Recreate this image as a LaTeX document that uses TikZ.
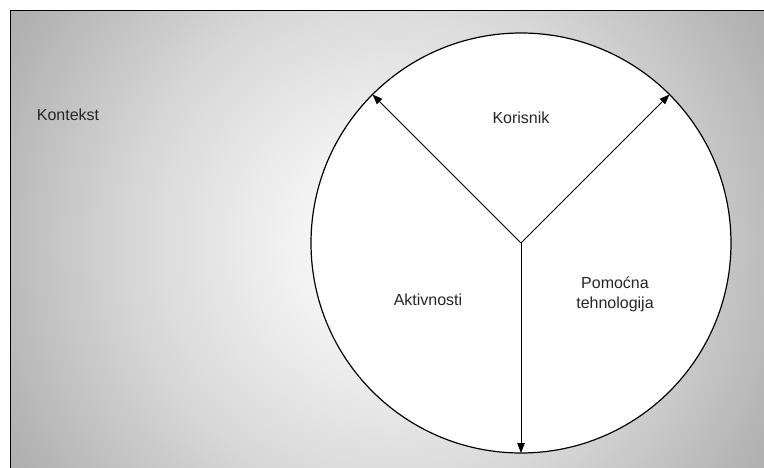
\documentclass[tikz,border=0pt]{standalone}
\usepackage{fontspec}
\setmainfont{Liberation Sans}
\usepackage{tikz}
\usetikzlibrary{arrows.meta, positioning}
\definecolor{ctxin}{RGB}{240, 240, 240}
\definecolor{ctxmid}{RGB}{216, 216, 216}
\definecolor{ctxout}{RGB}{178, 178, 178}
\definecolor{ctxedge}{RGB}{168, 168, 168}
\definecolor{ctxfar}{RGB}{160, 160, 160}
\pgfdeclareradialshading{ctxglow}{\pgfpoint{0bp}{0bp}}{color(0bp)=(white); color(6bp)=(ctxin); color(13.5bp)=(ctxmid); color(22.4bp)=(ctxout); color(26bp)=(ctxedge); color(50bp)=(ctxfar)}

\begin{document}
\begin{tikzpicture}[x=1pt, y=-1pt,
			lbl/.style={font=\fontsize{16}{20}\selectfont, text=black!85, align=center, inner sep=0pt},
			spoke/.style={-{Triangle[length=10pt, width=7.5pt]}, line width=0.9pt}]
			\useasboundingbox (0,0) rectangle (764,468);
			\clip (10,11) rectangle (764,468);
			
			% context background
			\shade[shading=ctxglow] (-80,-227) rectangle (860,713);
			\draw[line width=1pt] (10,476) -- (10,11) -- (772,11);
			\node[lbl] (ctx) at (68,115) {Kontekst};
			
			% circle and its three parts
			\node[circle, draw, line width=1.2pt, fill=white, minimum size=420pt, outer sep=0pt] (ring) at (521,243) {};
			\coordinate (hub) at (ring.center);
			\node[lbl] (user) at (521,118) {Korisnik};
			\node[lbl] (act) at (428,300) {Aktivnosti};
			\node[lbl] (tech) at (615,294) {Pomoćna\\tehnologija};
			
			\draw[spoke] (hub) -- (ring.135);
			\draw[spoke] (hub) -- (ring.45);
			\draw[spoke] (hub) -- (ring.270);
		\end{tikzpicture}
\end{document}
